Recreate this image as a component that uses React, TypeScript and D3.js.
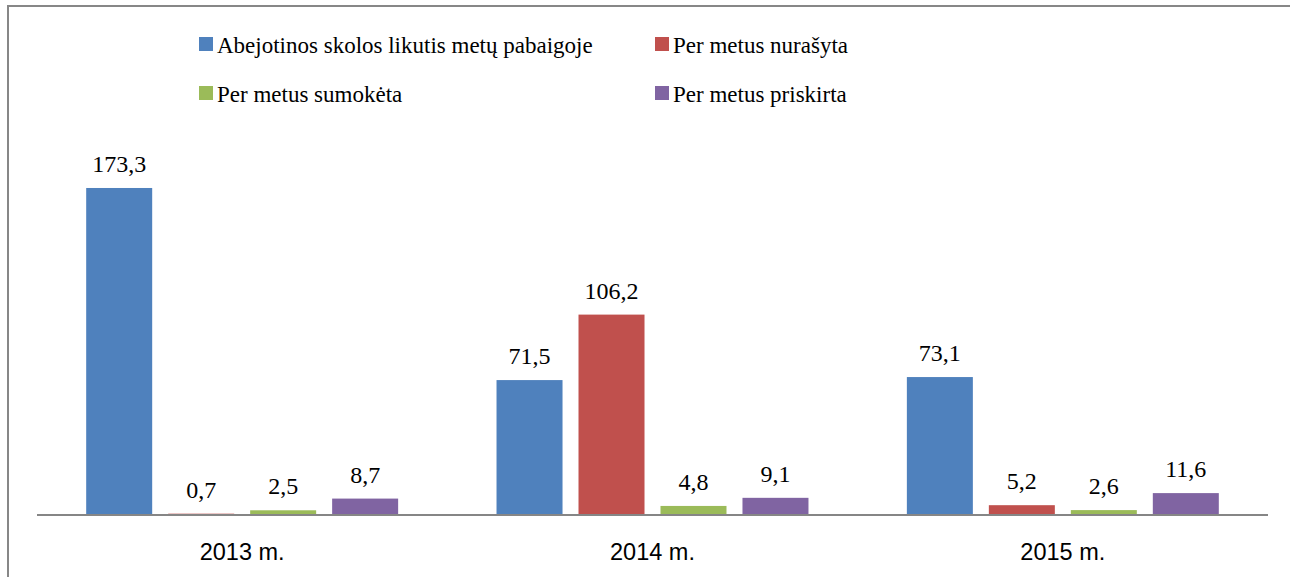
import React from "react";
import * as d3 from "d3";

const categories = ["2013 m.", "2014 m.", "2015 m."];
const seriesNames = [
  "Abejotinos skolos likutis metų pabaigoje",
  "Per metus nurašyta",
  "Per metus sumokėta",
  "Per metus priskirta",
];
const seriesColors = ["#4F81BD", "#C0504D", "#9BBB59", "#8064A2"];
const balanceValues = [173.3, 71.5, 73.1];
const writtenOffValues = [0.7, 106.2, 5.2];
const paidValues = [2.5, 4.8, 2.6];
const assignedValues = [8.7, 9.1, 11.6];
const seriesValues = [balanceValues, writtenOffValues, paidValues, assignedValues];

const W = 1290;
const H = 577;
const axisY = 515;
const plotLeft = 37;
const plotRight = 1268;

export default function App() {
  const x0 = d3.scaleBand<string>().domain(categories).range([plotLeft, plotRight]).paddingInner(0).paddingOuter(0);
  const x1 = d3
    .scaleBand<string>()
    .domain(seriesNames)
    .range([0, x0.bandwidth()])
    .paddingInner(0.195)
    .paddingOuter(0.6);
  const y = d3.scaleLinear().domain([0, 200]).range([axisY, axisY - 377.4]);
  const fmt = (v: number) => v.toFixed(1).replace(".", ",");

  const legendPos = [
    { x: 199, y: 37 },
    { x: 655, y: 37 },
    { x: 199, y: 86 },
    { x: 655, y: 86 },
  ];

  const bars: { x: number; v: number; color: string; key: string }[] = [];
  categories.forEach((c, ci) => {
    seriesNames.forEach((s, si) => {
      bars.push({ x: x0(c)! + x1(s)!, v: seriesValues[si][ci], color: seriesColors[si], key: c + s });
    });
  });

  return (
    <svg width={W} height={H} style={{ position: "absolute", left: 0, top: 0 }}>
      <rect x={0} y={0} width={W} height={H} fill="#fff" />
      <rect x={8} y={6} width={1400} height={700} fill="none" stroke="#878787" strokeWidth={2} />
      {seriesNames.map((s, i) => (
        <rect key={"m" + s} x={legendPos[i].x} y={legendPos[i].y} width={14} height={14} fill={seriesColors[i]} />
      ))}
      {seriesNames.map((s, i) => (
        <text key={"t" + s} x={legendPos[i].x + 18} y={legendPos[i].y + 16} fontFamily="Liberation Serif" fontSize={23}>
          {s}
        </text>
      ))}
      {bars.map((b) => (
        <rect key={"b" + b.key} x={b.x} y={y(b.v)} width={x1.bandwidth()} height={axisY - y(b.v)} fill={b.color} />
      ))}
      {bars.map((b) => (
        <text
          key={"v" + b.key}
          x={b.x + x1.bandwidth() / 2}
          y={y(b.v) - 16}
          textAnchor="middle"
          fontFamily="Liberation Serif"
          fontSize={24}
        >
          {fmt(b.v)}
        </text>
      ))}
      {categories.map((c) => (
        <text
          key={"c" + c}
          x={x0(c)! + x0.bandwidth() / 2}
          y={560}
          textAnchor="middle"
          fontFamily="Liberation Sans"
          fontSize={23.5}
        >
          {c}
        </text>
      ))}
      <line x1={plotLeft} x2={plotRight} y1={axisY} y2={axisY} stroke="#868686" strokeWidth={2} />
    </svg>
  );
}
